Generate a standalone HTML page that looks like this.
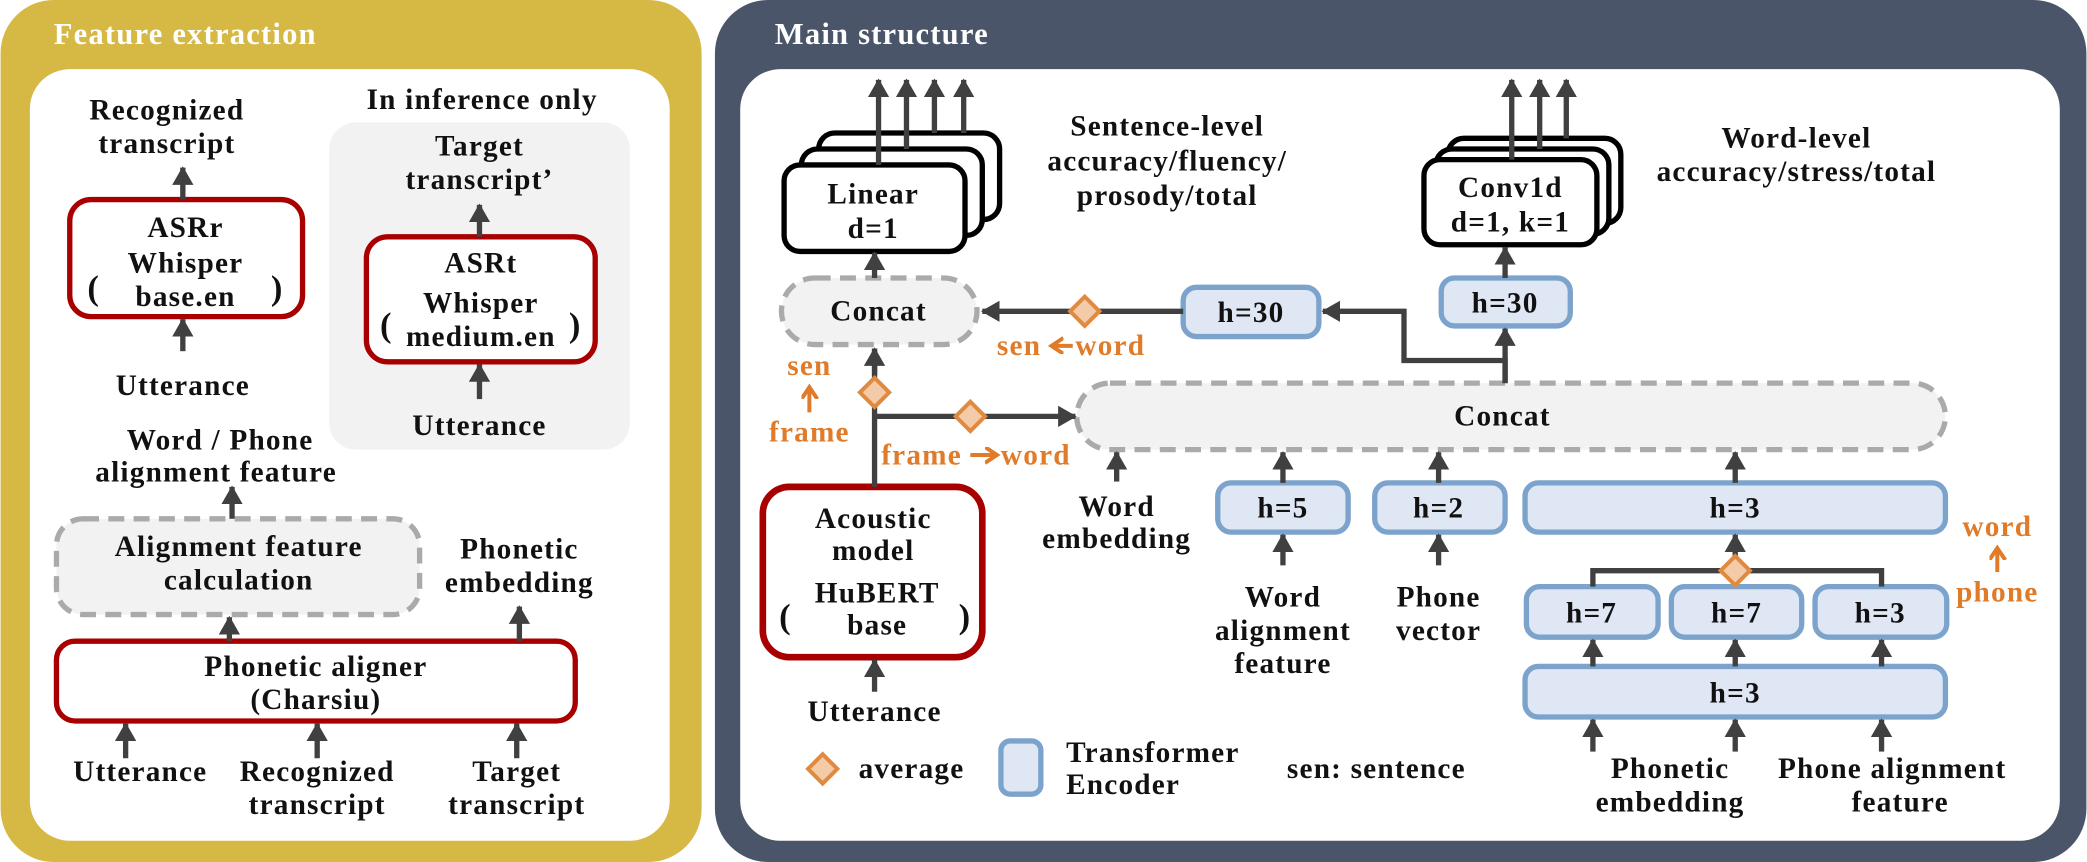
<!DOCTYPE html>
<html><head><meta charset="utf-8"><style>
html,body{margin:0;padding:0;background:#fff}
svg{display:block}
text{font-family:"Liberation Serif",serif;font-weight:bold;font-size:22px;letter-spacing:0.9px;fill:#111;text-anchor:middle}
.o{fill:#e07b2a}
.w{fill:#fff;text-anchor:start;font-size:23px}
.l{text-anchor:start}
</style></head><body>
<svg width="2087" height="862" viewBox="0 0 1568 648" xmlns="http://www.w3.org/2000/svg">
<defs>
<marker id="a" markerUnits="userSpaceOnUse" markerWidth="20" markerHeight="20" refX="13" refY="8" orient="auto">
<path d="M0,0 L14,8 L0,16 z" fill="#404040"/>
</marker>
<marker id="ao" markerUnits="userSpaceOnUse" markerWidth="16" markerHeight="16" refX="9" refY="6" orient="auto">
<path d="M0,0 L9,6 L0,12" fill="none" stroke="#e07b2a" stroke-width="3"/>
</marker>
</defs>
<!-- Left panel -->
<rect x="0" y="0" width="527" height="648" rx="40" fill="#d6b845"/>
<rect x="22" y="52" width="481" height="580" rx="30" fill="#fff"/>
<text x="40" y="33" class="w">Feature extraction</text>

<text x="125" y="90">Recognized</text>
<text x="125" y="115">transcript</text>
<rect x="52" y="150" width="175" height="88" rx="16" fill="#fff" stroke="#a80000" stroke-width="4"/>
<text x="139" y="178">ASRr</text>
<text x="139" y="205">Whisper</text>
<text x="139" y="230">base.en</text>
<text x="70" y="225" style="font-size:26px">(</text>
<text x="208" y="225" style="font-size:26px">)</text>
<text x="137" y="297">Utterance</text>

<text x="362" y="82">In inference only</text>
<rect x="247" y="92" width="226" height="246" rx="20" fill="#f2f2f2"/>
<text x="360" y="117">Target</text>
<text x="360" y="142">transcript’</text>
<rect x="275" y="178" width="172" height="94" rx="16" fill="#fff" stroke="#a80000" stroke-width="4"/>
<text x="361" y="205">ASRt</text>
<text x="361" y="235">Whisper</text>
<text x="361" y="260">medium.en</text>
<text x="290" y="253" style="font-size:26px">(</text>
<text x="432" y="253" style="font-size:26px">)</text>
<text x="360" y="327">Utterance</text>

<text x="165" y="338">Word / Phone</text>
<text x="162" y="362">alignment feature</text>
<rect x="42" y="390" width="273" height="72" rx="20" fill="#f2f2f2" stroke="#aaa" stroke-width="4" stroke-dasharray="12,7"/>
<text x="179" y="418">Alignment feature</text>
<text x="179" y="443">calculation</text>
<text x="390" y="420">Phonetic</text>
<text x="390" y="445">embedding</text>
<rect x="42" y="482" width="390" height="60" rx="14" fill="#fff" stroke="#a80000" stroke-width="4"/>
<text x="237" y="508">Phonetic aligner</text>
<text x="237" y="533">(Charsiu)</text>
<text x="105" y="587">Utterance</text>
<text x="238" y="587">Recognized</text>
<text x="238" y="612">transcript</text>
<text x="388" y="587">Target</text>
<text x="388" y="612">transcript</text>

<g stroke="#404040" stroke-width="4" fill="none" marker-end="url(#a)">
<path d="M137 150 V126"/>
<path d="M137 264 V240"/>
<path d="M360 178 V154"/>
<path d="M360 300 V274"/>
<path d="M174 390 V366"/>
<path d="M172 482 V464"/>
<path d="M390 482 V456"/>
<path d="M94 570 V544"/>
<path d="M238 570 V544"/>
<path d="M388 570 V544"/>
</g>

<!-- Right panel -->
<rect x="537" y="0" width="1031" height="648" rx="40" fill="#4a5569"/>
<rect x="556" y="52" width="992" height="580" rx="30" fill="#fff"/>
<text x="582" y="33" class="w">Main structure</text>

<rect x="615" y="100" width="136" height="65" rx="12" fill="#fff" stroke="#000" stroke-width="4"/>
<rect x="602" y="112" width="136" height="65" rx="12" fill="#fff" stroke="#000" stroke-width="4"/>
<rect x="589" y="124" width="136" height="65" rx="12" fill="#fff" stroke="#000" stroke-width="4"/>
<text x="656" y="153">Linear</text>
<text x="656" y="179">d=1</text>
<text x="877" y="102">Sentence-level</text>
<text x="877" y="128">accuracy/fluency/</text>
<text x="877" y="154">prosody/total</text>

<rect x="1088" y="104" width="130" height="64" rx="12" fill="#fff" stroke="#000" stroke-width="4"/>
<rect x="1079" y="112" width="130" height="64" rx="12" fill="#fff" stroke="#000" stroke-width="4"/>
<rect x="1070" y="120" width="130" height="64" rx="12" fill="#fff" stroke="#000" stroke-width="4"/>
<text x="1135" y="148">Conv1d</text>
<text x="1135" y="174">d=1, k=1</text>
<text x="1350" y="111">Word-level</text>
<text x="1350" y="136">accuracy/stress/total</text>

<rect x="587" y="209" width="147" height="50" rx="25" fill="#f2f2f2" stroke="#aaa" stroke-width="4" stroke-dasharray="12,7"/>
<text x="660" y="241">Concat</text>
<rect x="809" y="288" width="653" height="50" rx="25" fill="#f2f2f2" stroke="#aaa" stroke-width="4" stroke-dasharray="12,7"/>
<text x="1129" y="320">Concat</text>

<g fill="#dfe7f5" stroke="#7ba3cc" stroke-width="4">
<rect x="889" y="216" width="102" height="37" rx="10"/>
<rect x="1083" y="209" width="97" height="36" rx="10"/>
<rect x="915" y="363" width="98" height="37" rx="10"/>
<rect x="1033" y="363" width="98" height="37" rx="10"/>
<rect x="1146" y="363" width="316" height="37" rx="10"/>
<rect x="1147" y="441" width="99" height="38" rx="10"/>
<rect x="1256" y="441" width="98" height="38" rx="10"/>
<rect x="1364" y="441" width="99" height="38" rx="10"/>
<rect x="1146" y="501" width="316" height="38" rx="10"/>
<rect x="752" y="557" width="30" height="40" rx="7"/>
</g>
<text x="940" y="242">h=30</text>
<text x="1131" y="235">h=30</text>
<text x="964" y="389">h=5</text>
<text x="1081" y="389">h=2</text>
<text x="1304" y="389">h=3</text>
<text x="1196" y="468">h=7</text>
<text x="1305" y="468">h=7</text>
<text x="1413" y="468">h=3</text>
<text x="1304" y="528">h=3</text>

<rect x="573" y="366" width="165" height="128" rx="20" fill="#fff" stroke="#a80000" stroke-width="5"/>
<text x="656" y="397">Acoustic</text>
<text x="656" y="421">model</text>
<text x="659" y="453">HuBERT</text>
<text x="659" y="477">base</text>
<text x="590" y="472" style="font-size:26px">(</text>
<text x="725" y="472" style="font-size:26px">)</text>
<text x="657" y="542">Utterance</text>

<text x="839" y="388">Word</text>
<text x="839" y="412">embedding</text>
<text x="964" y="456">Word</text>
<text x="964" y="481">alignment</text>
<text x="964" y="506">feature</text>
<text x="1081" y="456">Phone</text>
<text x="1081" y="481">vector</text>
<text x="1255" y="585">Phonetic</text>
<text x="1255" y="610">embedding</text>
<text x="1422" y="585">Phone alignment</text>
<text x="1428" y="610">feature</text>

<g stroke="#404040" stroke-width="4" fill="none">
<path d="M657 366 V262"/>
<path d="M657 313 H808" marker-end="url(#a)"/>
<path d="M889 234 H738" marker-end="url(#a)"/>
<path d="M1131 288 V271 H1055 V234 H994" marker-end="url(#a)"/>
<path d="M1131 288 V247" marker-end="url(#a)"/>
<path d="M1131 209 V186" marker-end="url(#a)"/>
<path d="M657 209 V190" marker-end="url(#a)"/>
<path d="M657 282 V262" marker-end="url(#a)"/>
<path d="M660 124 V60" marker-end="url(#a)"/>
<path d="M681 112 V60" marker-end="url(#a)"/>
<path d="M702 100 V60" marker-end="url(#a)"/>
<path d="M724 100 V60" marker-end="url(#a)"/>
<path d="M1136 120 V60" marker-end="url(#a)"/>
<path d="M1157 112 V60" marker-end="url(#a)"/>
<path d="M1177 104 V60" marker-end="url(#a)"/>
<path d="M657 520 V496" marker-end="url(#a)"/>
<path d="M839 362 V340" marker-end="url(#a)"/>
<path d="M964 363 V340" marker-end="url(#a)"/>
<path d="M964 425 V402" marker-end="url(#a)"/>
<path d="M1081 363 V340" marker-end="url(#a)"/>
<path d="M1081 425 V402" marker-end="url(#a)"/>
<path d="M1304 363 V340" marker-end="url(#a)"/>
<path d="M1304 425 V402" marker-end="url(#a)"/>
<path d="M1197 441 V429 H1414 V441"/>
<path d="M1197 501 V481" marker-end="url(#a)"/>
<path d="M1304 501 V481" marker-end="url(#a)"/>
<path d="M1414 501 V481" marker-end="url(#a)"/>
<path d="M1197 565 V541" marker-end="url(#a)"/>
<path d="M1304 565 V541" marker-end="url(#a)"/>
<path d="M1414 565 V541" marker-end="url(#a)"/>
</g>

<g fill="#f3cba8" stroke="#e08a40" stroke-width="3">
<path d="M657 284 l11 11 l-11 11 l-11 -11 z"/>
<path d="M729 302 l11 11 l-11 11 l-11 -11 z"/>
<path d="M815 223 l11 11 l-11 11 l-11 -11 z"/>
<path d="M1304 418 l11 11 l-11 11 l-11 -11 z"/>
<path d="M618 567 l11 11 l-11 11 l-11 -11 z"/>
</g>

<text x="608" y="282" class="o">sen</text>
<path d="M608 310 V291" stroke="#e07b2a" stroke-width="3" marker-end="url(#ao)"/>
<text x="608" y="332" class="o">frame</text>
<text x="662" y="349" class="o l">frame</text>
<path d="M729 342 H749" stroke="#e07b2a" stroke-width="3" marker-end="url(#ao)"/>
<text x="752" y="349" class="o l">word</text>
<text x="749" y="267" class="o l">sen</text>
<path d="M806 260 H790" stroke="#e07b2a" stroke-width="3" marker-end="url(#ao)"/>
<text x="808" y="267" class="o l">word</text>
<text x="1501" y="403" class="o">word</text>
<path d="M1501 430 V412" stroke="#e07b2a" stroke-width="3" marker-end="url(#ao)"/>
<text x="1501" y="452" class="o">phone</text>

<text x="645" y="585" class="l">average</text>
<text x="801" y="573" class="l">Transformer</text>
<text x="801" y="597" class="l">Encoder</text>
<text x="967" y="585" class="l">sen: sentence</text>
</svg>
</body></html>
